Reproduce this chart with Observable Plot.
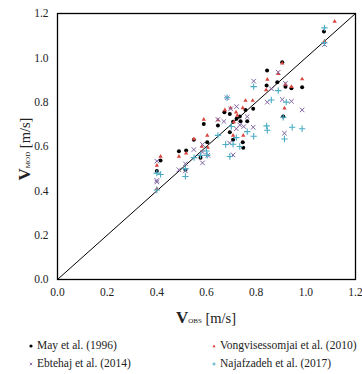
<!DOCTYPE html>
<html><head><meta charset="utf-8">
<script src="https://cdn.jsdelivr.net/npm/d3@7"></script>
<script src="https://cdn.jsdelivr.net/npm/@observablehq/plot@0.6"></script>
<style>
body{margin:0;background:#fff;font-family:"Times New Roman","Liberation Serif","DejaVu Serif",serif;}
#wrap{position:relative;width:362px;height:374px;}
.leg{position:absolute;font-family:"Times New Roman","Liberation Serif","DejaVu Serif",serif;font-size:11.5px;color:#222;white-space:nowrap;line-height:12px;}
.leg svg{vertical-align:middle;margin-right:2px;}
</style></head><body><div id="wrap"></div>
<script>
// V_OBS / V_MOD pairs per study
const mayX = [0.40,0.415,0.489,0.518,0.515,0.549,0.576,0.603,0.589,0.646,0.672,0.694,0.694,0.707,0.721,0.734,0.737,0.757,0.788,0.764,0.746,0.748,0.842,0.844,0.885,0.905,0.918,0.942,0.985,0.909,1.073,0.707];
const mayY = [0.489,0.537,0.579,0.582,0.495,0.630,0.549,0.619,0.702,0.695,0.755,0.747,0.664,0.631,0.725,0.735,0.714,0.765,0.770,0.714,0.619,0.594,0.875,0.943,0.890,0.980,0.870,0.863,0.867,0.735,1.119,0.712];

const vongX = [0.40,0.40,0.415,0.489,0.518,0.549,0.581,0.603,0.605,0.589,0.646,0.674,0.697,0.719,0.746,0.757,0.786,0.710,0.707,0.748,0.845,0.840,0.889,0.905,0.918,0.942,0.985,0.914,1.075,1.116,0.724];
const vongY = [0.514,0.409,0.555,0.555,0.570,0.634,0.600,0.650,0.595,0.722,0.720,0.765,0.774,0.755,0.774,0.807,0.807,0.710,0.650,0.650,0.902,0.855,0.928,0.975,0.880,0.870,0.904,0.773,1.075,1.164,0.740];

const ebteX = [0.40,0.40,0.40,0.489,0.515,0.515,0.549,0.584,0.584,0.584,0.605,0.646,0.670,0.683,0.697,0.721,0.693,0.707,0.734,0.764,0.788,0.790,0.845,0.862,0.889,0.918,0.905,0.942,0.985,0.914,1.075,0.750,0.720];
const ebteY = [0.534,0.447,0.440,0.495,0.522,0.490,0.586,0.609,0.575,0.526,0.560,0.722,0.713,0.820,0.770,0.780,0.616,0.562,0.697,0.735,0.687,0.895,0.800,0.860,0.935,0.885,0.812,0.804,0.765,0.660,1.060,0.690,0.680];

const najaX = [0.415,0.40,0.40,0.515,0.515,0.576,0.603,0.646,0.677,0.694,0.707,0.734,0.720,0.764,0.790,0.842,0.845,0.914,0.945,0.985,0.909,0.790,0.861,0.921,0.889,1.075,1.075,0.683,0.700,0.550,0.600];
const najaY = [0.474,0.404,0.480,0.465,0.500,0.560,0.560,0.650,0.609,0.555,0.610,0.600,0.640,0.667,0.646,0.693,0.673,0.634,0.687,0.680,0.732,0.870,0.810,0.800,0.852,1.135,1.068,0.820,0.690,0.550,0.580];

const axisTicks = [0, 0.2, 0.4, 0.6, 0.8, 1.0, 1.2];
const diagonal = [0, 1.2];
const seriesNames = ["May et al. (1996)", "Vongvisessomjai et al. (2010)", "Ebtehaj et al. (2014)", "Najafzadeh et al. (2017)"];

const pts = (xs, ys) => xs.map((x, i) => ({x, y: ys[i]}));
const may = pts(mayX, mayY), vong = pts(vongX, vongY), ebte = pts(ebteX, ebteY), naja = pts(najaX, najaY);

const C = {may:"#000000", vong:"#D9453F", ebte:"#8064A2", naja:"#4BACC6"};
const FONT = "'Times New Roman','Liberation Serif','DejaVu Serif',serif";

const plot = Plot.plot({
  width: 362, height: 332,
  marginLeft: 57, marginRight: 7, marginTop: 13, marginBottom: 53,
  style: {fontFamily: FONT, fontSize: "11.5px", color: "#222", background: "#fff"},
  x: {domain: [0, 1.2], ticks: axisTicks, tickFormat: d => d.toFixed(1), tickSize: 0, tickPadding: 8, label: null},
  y: {domain: [0, 1.2], ticks: axisTicks, tickFormat: d => d.toFixed(1), tickSize: 0, tickPadding: 9, label: null},
  marks: [
    Plot.line(diagonal, {x: d => d, y: d => d, stroke: "#000", strokeWidth: 1}),
    Plot.dot(may, {x: "x", y: "y", symbol: "circle", r: 2, fill: C.may, stroke: "none"}),
    Plot.dot(vong, {x: "x", y: "y", symbol: "triangle", r: 1.6, fill: C.vong, stroke: "none"}),
    Plot.dot(ebte, {x: "x", y: "y", symbol: "times", r: 2.2, stroke: C.ebte, strokeWidth: 1, fill: "none"}),
    Plot.dot(naja, {x: "x", y: "y", symbol: "plus", r: 2.2, stroke: C.naja, strokeWidth: 1.1, fill: "none"}),
    Plot.frame({stroke: "#000", strokeWidth: 1.3})
  ]
});
document.getElementById("wrap").appendChild(plot);

const svg = d3.select(plot);
function addLabel(g, sub) {
  g.append("tspan").attr("font-size", 17).attr("font-weight", "bold").text("V");
  g.append("tspan").attr("font-size", 7).text(sub);
  g.append("tspan").attr("font-size", 14.5).text(" [m/s]");
}
const xl = svg.append("text").attr("x", 206).attr("y", 323).attr("text-anchor", "middle")
  .attr("fill", "#222").attr("font-family", FONT);
addLabel(xl, "OBS");
const yl = svg.append("text").attr("transform", "translate(30,149) rotate(-90)").attr("text-anchor", "middle")
  .attr("fill", "#222").attr("font-family", FONT);
addLabel(yl, "MOD");

// legend
const legendPos = [[28, 339], [211, 339], [28, 357], [211, 357]];
const legendMarker = [
  '<circle cx="3" cy="4" r="1.6" fill="#000"/>',
  '<path d="M3,2.5 L4.6,5.2 L1.4,5.2Z" fill="#D9453F"/>',
  '<path d="M1.8,2.8 L4.2,5.2 M4.2,2.8 L1.8,5.2" stroke="#8064A2" stroke-width="0.9"/>',
  '<path d="M3,2.4 V5.6 M1.4,4 H4.6" stroke="#4BACC6" stroke-width="1"/>'
];
seriesNames.forEach((n, i) => {
  const d = document.createElement("div");
  d.className = "leg";
  d.style.left = legendPos[i][0] + "px";
  d.style.top = legendPos[i][1] + "px";
  d.innerHTML = '<svg width="7" height="8">' + legendMarker[i] + '</svg>' + n;
  document.getElementById("wrap").appendChild(d);
});
</script></body></html>
